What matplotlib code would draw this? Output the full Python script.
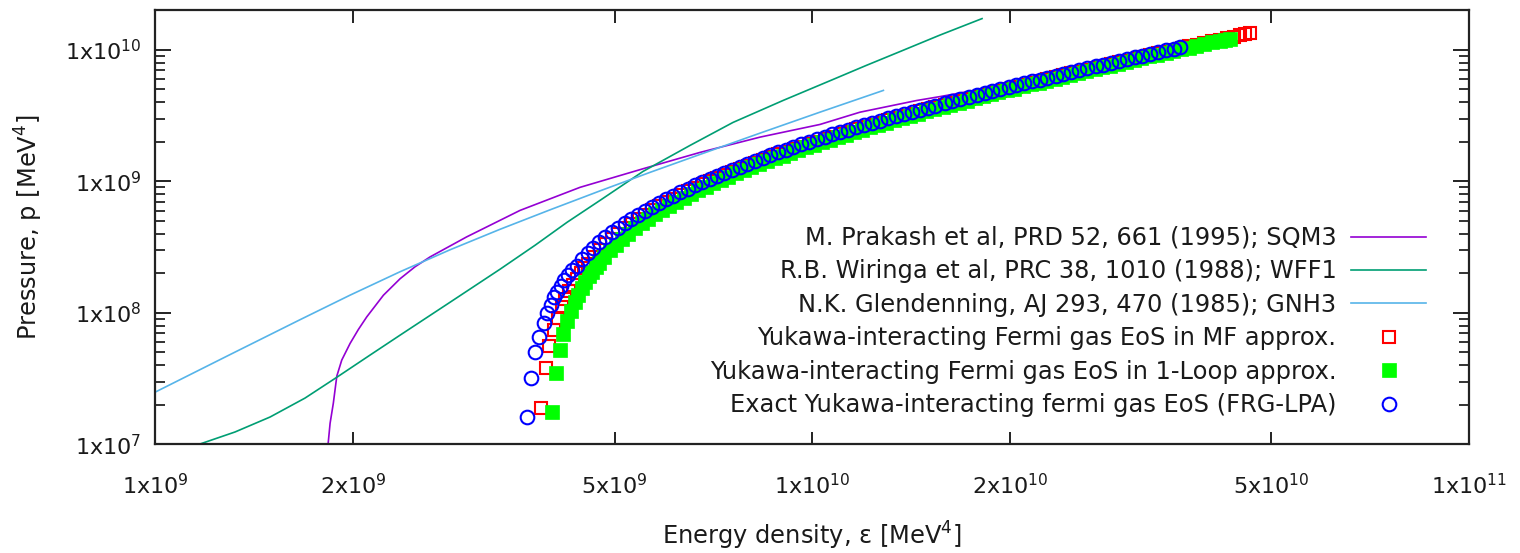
import numpy as np
import matplotlib
matplotlib.use("Agg")
import matplotlib.pyplot as plt
from matplotlib.ticker import FixedLocator, FixedFormatter, LogLocator, NullLocator

plt.rcParams['font.family'] = ['DejaVu Sans']
plt.rcParams['mathtext.default'] = 'regular'

G = 1e9  # values below are in units of 1e9 MeV^4

# reference equations of state (lines)
eps_sqm3 = [1.832, 1.839, 1.845, 1.866, 1.889, 1.922, 1.979, 2.037, 2.098, 2.224, 2.358, 2.485,
            2.619, 2.978, 3.59, 4.43, 5.53, 6.748, 8.33, 10.27, 11.82, 14.42, 15.6, 20.0]
p_sqm3 = [0.0100, 0.01218, 0.01444, 0.0205, 0.0330, 0.0437, 0.0585, 0.0746, 0.0931, 0.136, 0.1816, 0.2240,
          0.266, 0.378, 0.601, 0.900, 1.248, 1.660, 2.17, 2.707, 3.357, 4.12, 4.40, 5.50]

eps_wff1 = [1.166, 1.322, 1.495, 1.690, 1.891, 2.122, 2.358, 2.810, 3.347, 3.784, 4.233,
            4.753, 5.526, 6.515, 7.573, 9.025, 10.75, 12.07, 13.60, 15.64, 18.13]
p_wff1 = [0.0100, 0.0124, 0.01612, 0.02247, 0.03245, 0.04767, 0.06762, 0.1204, 0.2145, 0.3263, 0.4878,
          0.7168, 1.190, 1.876, 2.805, 4.120, 5.950, 7.598, 9.705, 12.95, 17.29]

eps_gnh3 = [1.0, 1.299, 1.661, 1.978, 2.358, 2.810, 3.347, 3.989, 4.753, 5.662, 6.748, 8.326, 10.27, 12.83]
p_gnh3 = [0.02496, 0.04808, 0.08868, 0.1361, 0.2053, 0.3017, 0.4317, 0.6072, 0.8465, 1.170, 1.602,
          2.326, 3.357, 4.916]

# Yukawa Fermi gas, MF approximation (red open squares)
eps_mf = [3.86, 3.93, 3.98, 4.04, 4.10, 4.155, 4.21, 4.27, 4.33, 4.39, 4.445, 4.50, 4.56,
          4.65, 4.75, 4.85, 4.96, 5.07, 5.19, 5.31, 5.44, 5.57, 5.71,
          5.85, 6.00, 6.15, 6.31, 6.47, 6.64, 6.81, 6.99, 7.17, 7.36,
          7.56, 7.76, 7.97, 8.19, 8.41, 8.64, 8.88, 9.12, 9.37, 9.63,
          9.90, 10.17, 10.45, 10.74, 11.04, 11.35, 11.67, 12.00, 12.34, 12.69,
          13.05, 13.42, 13.80, 14.19, 14.59, 15.0, 15.4, 15.9, 16.3, 16.8,
          17.3, 17.8, 18.3, 18.8, 19.3, 19.9, 20.4, 21.0, 21.6, 22.2,
          22.8, 23.5, 24.1, 24.8, 25.5, 26.2, 27.0, 27.7, 28.5, 29.3,
          30.1, 31.0, 31.8, 32.7, 33.6, 34.6, 35.5, 36.5, 37.5, 38.5,
          39.5, 40.6, 41.7, 42.8, 43.9, 44.8, 45.6, 46.3]
p_mf = [0.019, 0.038, 0.056, 0.074, 0.092, 0.110, 0.128, 0.146, 0.164, 0.182, 0.200, 0.218, 0.236,
        0.268, 0.299, 0.331, 0.365, 0.400, 0.438, 0.476, 0.517, 0.558, 0.602,
        0.646, 0.693, 0.740, 0.791, 0.841, 0.895, 0.948, 1.005, 1.062, 1.121,
        1.184, 1.247, 1.314, 1.383, 1.452, 1.525, 1.600, 1.676, 1.755, 1.836,
        1.922, 2.007, 2.095, 2.186, 2.281, 2.378, 2.479, 2.583, 2.690, 2.800,
        2.914, 3.030, 3.150, 3.273, 3.399, 3.528, 3.654, 3.812, 3.938, 4.095,
        4.253, 4.410, 4.568, 4.725, 4.883, 5.072, 5.229, 5.418, 5.607, 5.796,
        5.985, 6.206, 6.395, 6.615, 6.836, 7.056, 7.308, 7.529, 7.781, 8.033,
        8.285, 8.568, 8.820, 9.104, 9.387, 9.702, 9.986, 10.30, 10.62, 10.93,
        11.25, 11.59, 11.94, 12.29, 12.63, 12.92, 13.17, 13.39]

# 1-loop approximation (green filled squares)
eps_1l = [4.02, 4.07, 4.13, 4.18, 4.24, 4.29, 4.35, 4.40, 4.46, 4.51, 4.57, 4.62, 4.68, 4.73,
          4.82, 4.92, 5.02, 5.13, 5.25, 5.37, 5.50, 5.63, 5.77, 5.91,
          6.06, 6.21, 6.37, 6.53, 6.70, 6.88, 7.06, 7.25, 7.45, 7.65,
          7.86, 8.08, 8.30, 8.53, 8.77, 9.01, 9.26, 9.52, 9.79, 10.06,
          10.34, 10.63, 10.93, 11.24, 11.56, 11.89, 12.23, 12.58, 12.94, 13.31,
          13.69, 14.08, 14.48, 14.9, 15.3, 15.8, 16.2, 16.7, 17.2, 17.7,
          18.2, 18.7, 19.2, 19.8, 20.3, 20.9, 21.5, 22.1, 22.7, 23.4,
          24.0, 24.7, 25.4, 26.1, 26.9, 27.6, 28.4, 29.2, 30.0, 30.9,
          31.7, 32.6, 33.5, 34.5, 35.4, 36.4, 37.4, 38.4, 39.5, 40.6,
          41.7, 42.5, 43.2]
p_1l = [0.0175, 0.035, 0.052, 0.069, 0.086, 0.103, 0.120, 0.137, 0.155, 0.172, 0.189, 0.206, 0.223, 0.240,
        0.267, 0.299, 0.330, 0.364, 0.401, 0.439, 0.479, 0.519, 0.563, 0.606,
        0.653, 0.700, 0.750, 0.799, 0.852, 0.908, 0.964, 1.023, 1.085, 1.148,
        1.213, 1.281, 1.350, 1.421, 1.496, 1.571, 1.648, 1.729, 1.813, 1.897,
        1.984, 2.074, 2.168, 2.264, 2.364, 2.466, 2.572, 2.681, 2.793, 2.908,
        3.026, 3.147, 3.272, 3.402, 3.527, 3.682, 3.807, 3.962, 4.118, 4.273,
        4.429, 4.584, 4.740, 4.926, 5.082, 5.268, 5.455, 5.642, 5.828, 6.046,
        6.232, 6.450, 6.668, 6.886, 7.134, 7.352, 7.601, 7.850, 8.098, 8.378,
        8.627, 8.907, 9.187, 9.498, 9.778, 10.09, 10.40, 10.71, 11.05, 11.40,
        11.74, 11.99, 12.20]

# exact FRG-LPA (blue open circles)
eps_frg = [3.675, 3.73, 3.79, 3.84, 3.90, 3.95, 4.00, 4.05, 4.09, 4.14, 4.19, 4.25, 4.31, 4.38,
           4.46, 4.55, 4.64, 4.74, 4.84, 4.95, 5.06, 5.18, 5.30, 5.43,
           5.56, 5.70, 5.84, 5.99, 6.14, 6.30, 6.46, 6.63, 6.80, 6.98,
           7.16, 7.35, 7.55, 7.75, 7.96, 8.18, 8.40, 8.63, 8.87, 9.11,
           9.36, 9.62, 9.89, 10.16, 10.44, 10.73, 11.03, 11.34, 11.66, 11.99,
           12.33, 12.68, 13.04, 13.41, 13.79, 14.18, 14.58, 15.0, 15.4, 15.9,
           16.3, 16.8, 17.3, 17.8, 18.3, 18.8, 19.3, 19.9, 20.4, 21.0,
           21.6, 22.2, 22.8, 23.5, 24.1, 24.8, 25.5, 26.2, 27.0, 27.7,
           28.5, 29.3, 30.1, 31.0, 31.8, 32.7, 33.6, 34.6, 35.5, 36.3]
p_frg = [0.016, 0.032, 0.050, 0.065, 0.083, 0.099, 0.114, 0.131, 0.144, 0.159, 0.177, 0.193, 0.211, 0.227,
         0.257, 0.285, 0.313, 0.344, 0.375, 0.409, 0.443, 0.481, 0.518, 0.558,
         0.598, 0.642, 0.685, 0.732, 0.778, 0.828, 0.877, 0.930, 0.983, 1.039,
         1.094, 1.153, 1.219, 1.285, 1.355, 1.429, 1.503, 1.580, 1.661, 1.743,
         1.828, 1.917, 2.003, 2.090, 2.179, 2.272, 2.368, 2.467, 2.570, 2.675,
         2.784, 2.896, 3.011, 3.130, 3.251, 3.376, 3.504, 3.638, 3.766, 3.926,
         4.054, 4.214, 4.374, 4.534, 4.694, 4.854, 5.014, 5.206, 5.366, 5.558,
         5.750, 5.942, 6.134, 6.358, 6.550, 6.774, 6.998, 7.222, 7.478, 7.702,
         7.958, 8.214, 8.470, 8.758, 9.014, 9.302, 9.590, 9.910, 10.198, 10.454]

labels = ["M. Prakash et al, PRD 52, 661 (1995); SQM3",
          "R.B. Wiringa et al, PRC 38, 1010 (1988); WFF1",
          "N.K. Glendenning, AJ 293, 470 (1985); GNH3",
          "Yukawa-interacting Fermi gas EoS in MF approx.",
          "Yukawa-interacting Fermi gas EoS in 1-Loop approx.",
          "Exact Yukawa-interacting fermi gas EoS (FRG-LPA)"]

x_ticks = [1e9, 2e9, 5e9, 1e10, 2e10, 5e10, 1e11]
x_ticklabels = ['1x10$^9$', '2x10$^9$', '5x10$^9$', '1x10$^{10}$', '2x10$^{10}$', '5x10$^{10}$', '1x10$^{11}$']
y_ticks = [1e7, 1e8, 1e9, 1e10]
y_ticklabels = ['1x10$^7$', '1x10$^8$', '1x10$^9$', '1x10$^{10}$']

txt = '#1a1a1a'

fig = plt.figure(figsize=(15.2, 5.53), dpi=100)
ax = fig.add_axes([0.1022, 0.1966, 0.8644, 0.7848])
ax.set_xscale('log')
ax.set_yscale('log')

ax.plot(np.array(eps_sqm3) * G, np.array(p_sqm3) * G, color='#9400d3', lw=1.2, label=labels[0])
ax.plot(np.array(eps_wff1) * G, np.array(p_wff1) * G, color='#009e73', lw=1.2, label=labels[1])
ax.plot(np.array(eps_gnh3) * G, np.array(p_gnh3) * G, color='#56b4e9', lw=1.2, label=labels[2])

ax.plot(np.array(eps_mf) * G, np.array(p_mf) * G, ls='none', marker='s', ms=9.2,
        mfc='none', mec='#ff0000', mew=1.5, label=labels[3])
ax.plot(np.array(eps_1l) * G, np.array(p_1l) * G, ls='none', marker='s', ms=10.0,
        mfc='#00ff00', mec='#00ff00', mew=0.5, label=labels[4])
ax.plot(np.array(eps_frg) * G, np.array(p_frg) * G, ls='none', marker='o', ms=9.8,
        mfc='none', mec='#0000ff', mew=1.5, label=labels[5])

ax.set_xlim(1e9, 1e11)
ax.set_ylim(1e7, 2e10)

ax.xaxis.set_major_locator(FixedLocator(x_ticks))
ax.xaxis.set_major_formatter(FixedFormatter(x_ticklabels))
ax.xaxis.set_minor_locator(NullLocator())
ax.yaxis.set_major_locator(FixedLocator(y_ticks))
ax.yaxis.set_major_formatter(FixedFormatter(y_ticklabels))
ax.yaxis.set_minor_locator(LogLocator(base=10, subs=np.arange(2, 10)))

for s in ax.spines.values():
    s.set_linewidth(1.6)
    s.set_color('#222222')
ax.tick_params(axis='both', which='both', direction='in', top=True, right=True,
               colors='#222222', width=1.4, labelcolor=txt, labelsize=16)
ax.tick_params(axis='x', which='major', length=9, pad=21)
ax.tick_params(axis='y', which='major', length=11.5, pad=10)
ax.tick_params(axis='y', which='minor', length=7.4, width=1.3)

fig.text(812 / 1520, 1 - 536 / 553, 'Energy density, \u03b5 [MeV$^4$]', ha='center', va='center',
         fontsize=17.4, color=txt)
fig.text(29 / 1520, 1 - 227 / 553, 'Pressure, p [MeV$^4$]', ha='center', va='center',
         rotation=90, fontsize=17.4, color=txt)

leg = ax.legend(loc='upper right', bbox_to_anchor=(1426 / 1520, 1 - 226 / 553),
                bbox_transform=fig.transFigure, markerfirst=False, frameon=False,
                fontsize=17.4, handlelength=3.1, handletextpad=0.6, labelspacing=0.39,
                borderpad=0, borderaxespad=0, numpoints=1)
for t in leg.get_texts():
    t.set_color(txt)

fig.savefig('out.png', dpi=100)
